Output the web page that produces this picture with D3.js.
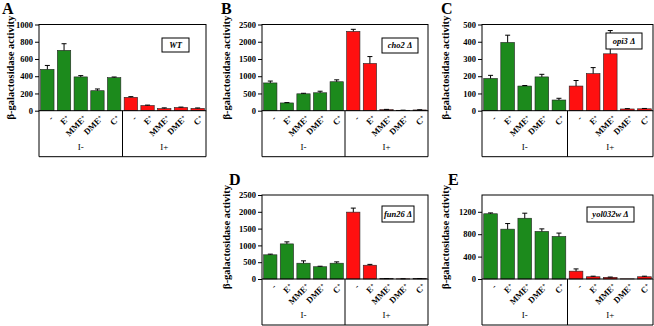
<!DOCTYPE html>
<html>
<head>
<meta charset="utf-8">
<script src="https://cdn.jsdelivr.net/npm/d3@7"></script>
<style>
  body { margin: 0; background: #fff; }
  svg { display: block; }
  text { font-family: "Liberation Serif", "Times New Roman", serif; fill: #000; }
</style>
</head>
<body>
<svg width="654" height="326"></svg>
<script>
// categories
var treatments = ["-", "E+", "MME+", "DME+", "C+"];
var groups = ["I-", "I+"];
var letters = ["A", "B", "C", "D", "E"];
var strains = ["WT", "cho2 \u0394", "opi3 \u0394", "fun26 \u0394", "yol032w \u0394"];

// beta-galactosidase activity, I- then I+
var wtMean    = [480, 700, 392, 232, 383, 155, 60, 25, 37, 27];
var wtErr     = [45, 77, 15, 20, 8, 8, 5, 8, 5, 5];
var cho2Mean  = [805, 225, 490, 520, 840, 2300, 1370, 30, 12, 22];
var cho2Err   = [55, 10, 15, 45, 55, 60, 200, 8, 3, 5];
var opi3Mean  = [187, 396, 143, 196, 62, 143, 215, 330, 10, 11];
var opi3Err   = [18, 42, 3, 15, 10, 32, 35, 135, 2, 2];
var fun26Mean = [720, 1045, 470, 365, 470, 1990, 410, 10, 5, 10];
var fun26Err  = [20, 60, 70, 15, 40, 120, 25, 3, 2, 3];
var yolMean   = [1165, 890, 1085, 850, 760, 140, 40, 30, 3, 40];
var yolErr    = [15, 100, 90, 45, 60, 40, 10, 5, 0, 10];

// y axis
var yMax = [1000, 2500, 500, 2500, 1500];
var wtTicks   = [0, 200, 400, 600, 800, 1000];
var cho2Ticks = [0, 500, 1000, 1500, 2000, 2500];
var opi3Ticks = [0, 100, 200, 300, 400, 500];
var fun26Ticks = [0, 500, 1000, 1500, 2000, 2500];
var yolTicks  = [0, 400, 800, 1200];

var means = [wtMean, cho2Mean, opi3Mean, fun26Mean, yolMean];
var errs = [wtErr, cho2Err, opi3Err, fun26Err, yolErr];
var ticks = [wtTicks, cho2Ticks, opi3Ticks, fun26Ticks, yolTicks];

// layout of each panel
var frames = [
  {x0: 39,  x1: 206, top: 24.5, y0: 110.7, titleDx: 29, letter: [2, 14],   box: [162, 38, 27, 14]},
  {x0: 262, x1: 428, top: 24.5, y0: 110.7, titleDx: 36, letter: [221, 14], box: [382, 38, 36, 15]},
  {x0: 482, x1: 653, top: 24.5, y0: 110.7, titleDx: 37, letter: [441, 14], box: [606, 33, 36, 16]},
  {x0: 262, x1: 428, top: 195,  y0: 279,   titleDx: 36, letter: [229, 185], box: [382, 206, 32, 16]},
  {x0: 482, x1: 653, top: 195,  y0: 279,   titleDx: 37, letter: [448, 185], box: [587, 207, 47, 15]}
];

var green = "#1c8a1c", red = "#ff1010";
var svg = d3.select("svg");

frames.forEach(function(f, p) {
  var g = svg.append("g");
  var slots = d3.range(10);
  var x = d3.scaleBand().domain(slots).range([f.x0, f.x1]).paddingInner(0.2).paddingOuter(0.1);
  var y = d3.scaleLinear().domain([0, yMax[p]]).range([f.y0, f.top]);
  var rows = slots.map(function(i) {
    return {i: i, v: means[p][i], e: errs[p][i], grp: i < 5 ? 0 : 1, lab: treatments[i % 5]};
  });

  // bars
  g.selectAll("rect.bar").data(rows).enter().append("rect")
    .attr("class", "bar")
    .attr("x", function(d) { return x(d.i); })
    .attr("width", x.bandwidth())
    .attr("y", function(d) { return y(d.v); })
    .attr("height", function(d) { return f.y0 - y(d.v); })
    .attr("fill", function(d) { return d.grp ? red : green; })
    .attr("stroke", "#222")
    .attr("stroke-width", 0.6);

  // error bars (upper only)
  var eb = g.selectAll("g.err").data(rows.filter(function(d) { return d.e > 0; })).enter().append("g");
  eb.append("line")
    .attr("x1", function(d) { return x(d.i) + x.bandwidth() / 2; })
    .attr("x2", function(d) { return x(d.i) + x.bandwidth() / 2; })
    .attr("y1", function(d) { return y(d.v); })
    .attr("y2", function(d) { return y(d.v + d.e); })
    .attr("stroke", "#000").attr("stroke-width", 1);
  eb.append("line")
    .attr("x1", function(d) { return x(d.i) + x.bandwidth() / 2 - 2.5; })
    .attr("x2", function(d) { return x(d.i) + x.bandwidth() / 2 + 2.5; })
    .attr("y1", function(d) { return y(d.v + d.e); })
    .attr("y2", function(d) { return y(d.v + d.e); })
    .attr("stroke", "#000").attr("stroke-width", 1);

  // plot box
  g.append("rect")
    .attr("x", f.x0).attr("y", f.top)
    .attr("width", f.x1 - f.x0).attr("height", f.y0 - f.top)
    .attr("fill", "none").attr("stroke", "#000").attr("stroke-width", 1);

  // y axis
  var ax = g.append("g")
    .attr("transform", "translate(" + f.x0 + ",0)")
    .call(d3.axisLeft(y).tickValues(ticks[p]).tickFormat(d3.format("d")).tickSize(4).tickPadding(2));
  ax.select(".domain").remove();
  ax.selectAll("line").attr("stroke", "#000");
  ax.selectAll("text")
    .attr("font-family", "'Liberation Serif', serif")
    .attr("font-weight", "bold").attr("font-size", 8.5).attr("fill", "#000");

  // category labels
  var cl = g.selectAll("text.cat").data(rows).enter().append("text")
    .attr("class", "cat")
    .attr("transform", function(d) {
      return "translate(" + (x(d.i) + x.bandwidth() / 2 + 2) + "," + (f.y0 + 4) + ") rotate(-45)";
    })
    .attr("text-anchor", "end")
    .attr("dy", "0.7em")
    .attr("font-weight", "bold").attr("font-size", 8.5);
  cl.append("tspan").text(function(d) { return d.lab.replace("+", ""); });
  cl.append("tspan")
    .attr("font-size", 6).attr("dy", -2.5)
    .text(function(d) { return d.lab.indexOf("+") >= 0 ? "+" : ""; });

  // group separators
  var mid = (f.x0 + f.x1) / 2;
  [f.x0, mid, f.x1].forEach(function(xx) {
    g.append("line").attr("x1", xx).attr("x2", xx)
      .attr("y1", f.y0).attr("y2", f.y0 + 46)
      .attr("stroke", "#000").attr("stroke-width", 1);
  });
  g.append("line").attr("x1", f.x0).attr("x2", f.x1)
    .attr("y1", f.y0 + 46).attr("y2", f.y0 + 46)
    .attr("stroke", "#000").attr("stroke-width", 1);
  var gx = d3.scaleBand().domain(groups).range([f.x0, f.x1]);
  g.selectAll("text.grp").data(groups).enter().append("text")
    .attr("x", function(d) { return gx(d) + gx.bandwidth() / 2; })
    .attr("y", f.y0 + 39)
    .attr("text-anchor", "middle")
    .attr("font-size", 9)
    .attr("fill", "#000")
    .text(function(d) { return d; });

  // y title
  g.append("text")
    .attr("transform", "translate(" + (f.x0 - f.titleDx) + "," + ((f.top + f.y0) / 2) + ") rotate(-90)")
    .attr("text-anchor", "middle")
    .attr("dy", "0.35em")
    .attr("font-weight", "bold").attr("font-size", 10.5)
    .text("\u03b2-galactosidase activity");

  // panel letter
  g.append("text")
    .attr("x", f.letter[0]).attr("y", f.letter[1])
    .attr("font-weight", "bold").attr("font-size", 16)
    .text(letters[p]);

  // strain box
  g.append("rect")
    .attr("x", f.box[0]).attr("y", f.box[1])
    .attr("width", f.box[2]).attr("height", f.box[3])
    .attr("fill", "#fff").attr("stroke", "#000").attr("stroke-width", 1);
  g.append("text")
    .attr("x", f.box[0] + f.box[2] / 2).attr("y", f.box[1] + f.box[3] / 2)
    .attr("dy", "0.35em")
    .attr("text-anchor", "middle")
    .attr("font-weight", "bold").attr("font-style", "italic").attr("font-size", 8.5)
    .text(strains[p]);
});
</script>
</body>
</html>
